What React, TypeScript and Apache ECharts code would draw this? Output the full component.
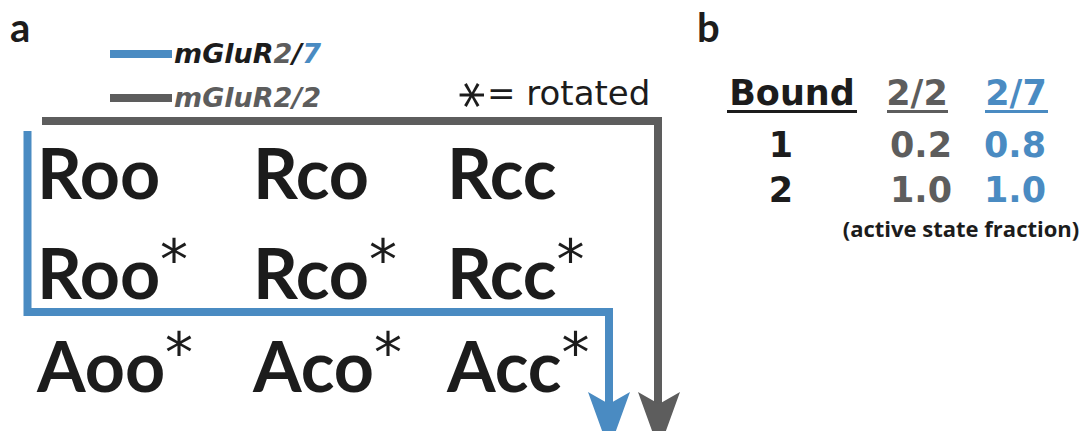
import React, { useEffect, useRef } from "react";
import * as echarts from "echarts";

// Conformational states: rows R (resting), R* (rotated), A* (active)
const stateRows: string[][] = [
  ["Roo", "Rco", "Rcc"],
  ["Roo", "Rco", "Rcc"],
  ["Aoo", "Aco", "Acc"],
];
const rowRotated: boolean[] = [false, true, true];

// Legend entries
const legendNames = ["mGluR2/7", "mGluR2/2"];

// Table b: number of bound ligands vs active state fraction
const boundCounts: string[] = ["1", "2"];
const frac22: number[] = [0.2, 1.0];
const frac27: number[] = [0.8, 1.0];
const tableHeaders: string[] = ["Bound", "2/2", "2/7"];

const BLUE = "#4a8bc2";
const GRAY = "#5d5d5d";
const INK = "#1c1c1c";

// central-baseline offset (fraction of font size) per family
const CENTRAL: Record<string, number> = {
  Lato: 0.387,
  "DejaVu Sans": 0.346,
  "Open Sans": 0.388,
};

function txt(
  text: string,
  x: number,
  baseline: number,
  family: string,
  size: number,
  weight: string,
  color: string,
  align: string = "left",
  extra: any = {}
) {
  return {
    type: "text",
    silent: true,
    style: {
      text,
      x,
      y: baseline - CENTRAL[family] * size,
      fontFamily: family,
      fontSize: size,
      fontWeight: weight,
      fill: color,
      textAlign: align,
      textVerticalAlign: "middle",
      ...extra,
    },
  };
}

// state label, optionally followed by a raised asterisk in the same text
function stateLabel(label: string, x: number, baseline: number, rotated: boolean) {
  const main = { fontFamily: "Lato", fontSize: 70, fontWeight: "bold", lineHeight: 80, fill: INK };
  return {
    type: "text",
    silent: true,
    style: {
      text: rotated ? `{m|${label}}{s|*}` : `{m|${label}}`,
      x,
      y: baseline - CENTRAL.Lato * 70,
      textAlign: "left",
      textVerticalAlign: "middle",
      ...main,
      rich: {
        m: main,
        s: {
          fontFamily: "DejaVu Sans",
          fontSize: 56,
          fontWeight: "normal",
          lineHeight: 61,
          verticalAlign: "top",
          fill: INK,
        },
      },
    },
  };
}

function buildGraphics() {
  const g: any[] = [];

  // panel letters
  g.push(txt("a", 10, 42, "Lato", 40, "bold", INK));
  g.push(txt("b", 697, 42, "Lato", 40, "bold", INK));

  // pathway lines
  g.push({
    type: "polyline",
    silent: true,
    shape: { points: [[42, 121], [658, 121], [658, 406]] },
    style: { stroke: GRAY, lineWidth: 8, fill: null, lineJoin: "miter", lineCap: "butt" },
  });
  g.push({
    type: "polygon",
    silent: true,
    shape: { points: [[638, 392], [659, 404], [680, 392], [659, 450]] },
    style: { fill: GRAY },
  });
  g.push({
    type: "polyline",
    silent: true,
    shape: { points: [[27.5, 131], [27.5, 312], [609, 312], [609, 406]] },
    style: { stroke: BLUE, lineWidth: 8, fill: null, lineJoin: "miter", lineCap: "butt" },
  });
  g.push({
    type: "polygon",
    silent: true,
    shape: { points: [[588, 392], [609, 404], [630, 392], [609, 450]] },
    style: { fill: BLUE },
  });

  // legend
  g.push({
    type: "line",
    silent: true,
    shape: { x1: 110, y1: 54, x2: 172, y2: 54 },
    style: { stroke: BLUE, lineWidth: 8 },
  });
  g.push({
    type: "line",
    silent: true,
    shape: { x1: 110, y1: 98, x2: 172, y2: 98 },
    style: { stroke: GRAY, lineWidth: 8 },
  });
  const legFont = { fontFamily: "DejaVu Sans", fontSize: 27, fontWeight: "bold", fontStyle: "italic" };
  g.push({
    type: "text",
    silent: true,
    style: {
      text: "{k|mGluR}{g|2}{k|/}{b|7}",
      x: 174,
      y: 63 - 0.346 * 27,
      textVerticalAlign: "middle",
      ...legFont,
      rich: {
        k: { ...legFont, fill: INK },
        g: { ...legFont, fill: GRAY },
        b: { ...legFont, fill: BLUE },
      },
    },
  });
  g.push({
    type: "text",
    silent: true,
    style: {
      text: legendNames[1],
      x: 174,
      y: 107 - 0.346 * 27,
      textVerticalAlign: "middle",
      fill: GRAY,
      ...legFont,
    },
  });
  // the key's asterisk is drawn turned a quarter turn
  g.push({
    type: "text",
    silent: true,
    x: 468,
    y: 95,
    rotation: Math.PI / 2,
    style: {
      text: "*",
      x: 0,
      y: 12,
      fontFamily: "DejaVu Sans",
      fontSize: 54,
      lineHeight: 28,
      fill: INK,
      textAlign: "center",
      textVerticalAlign: "middle",
    },
  });
  g.push(txt("= rotated", 487, 105, "DejaVu Sans", 34, "normal", INK));

  // state grid
  const colX = [37, 253, 447];
  const rowBase = [199, 299, 392];
  stateRows.forEach((row, r) => {
    row.forEach((label, c) => {
      g.push(stateLabel(label, colX[c], rowBase[r], rowRotated[r]));
    });
  });

  // table b
  const hdrX = [792, 917, 1016];
  const hdrCol = [INK, GRAY, BLUE];
  const ulSpan = [[727, 857], [887, 948], [985, 1048]];
  tableHeaders.forEach((h, i) => {
    g.push(txt(h, hdrX[i], 105, "DejaVu Sans", 35, "bold", hdrCol[i], "center"));
    g.push({
      type: "line",
      silent: true,
      shape: { x1: ulSpan[i][0], y1: 111.5, x2: ulSpan[i][1], y2: 111.5 },
      style: { stroke: hdrCol[i], lineWidth: 3 },
    });
  });
  const rowY = [157, 202];
  boundCounts.forEach((b, i) => {
    g.push(txt(b, 781, rowY[i], "DejaVu Sans", 35, "bold", INK, "center"));
    g.push(txt(frac22[i].toFixed(1), 921, rowY[i], "DejaVu Sans", 35, "bold", GRAY, "center"));
    g.push(txt(frac27[i].toFixed(1), 1015, rowY[i], "DejaVu Sans", 35, "bold", BLUE, "center"));
  });
  g.push(txt("(active state fraction)", 961, 237, "Open Sans", 22, "bold", INK, "center"));

  return g;
}

export default function App() {
  const ref = useRef<HTMLDivElement>(null);
  useEffect(() => {
    if (!ref.current) return;
    const chart = echarts.init(ref.current, undefined, { renderer: "svg" });
    chart.setOption({
      animation: false,
      backgroundColor: "#ffffff",
      graphic: buildGraphics(),
    });
    return () => chart.dispose();
  }, []);
  return (
    <div
      ref={ref}
      style={{ position: "fixed", left: 0, top: 0, width: 1084, height: 431 }}
    />
  );
}
